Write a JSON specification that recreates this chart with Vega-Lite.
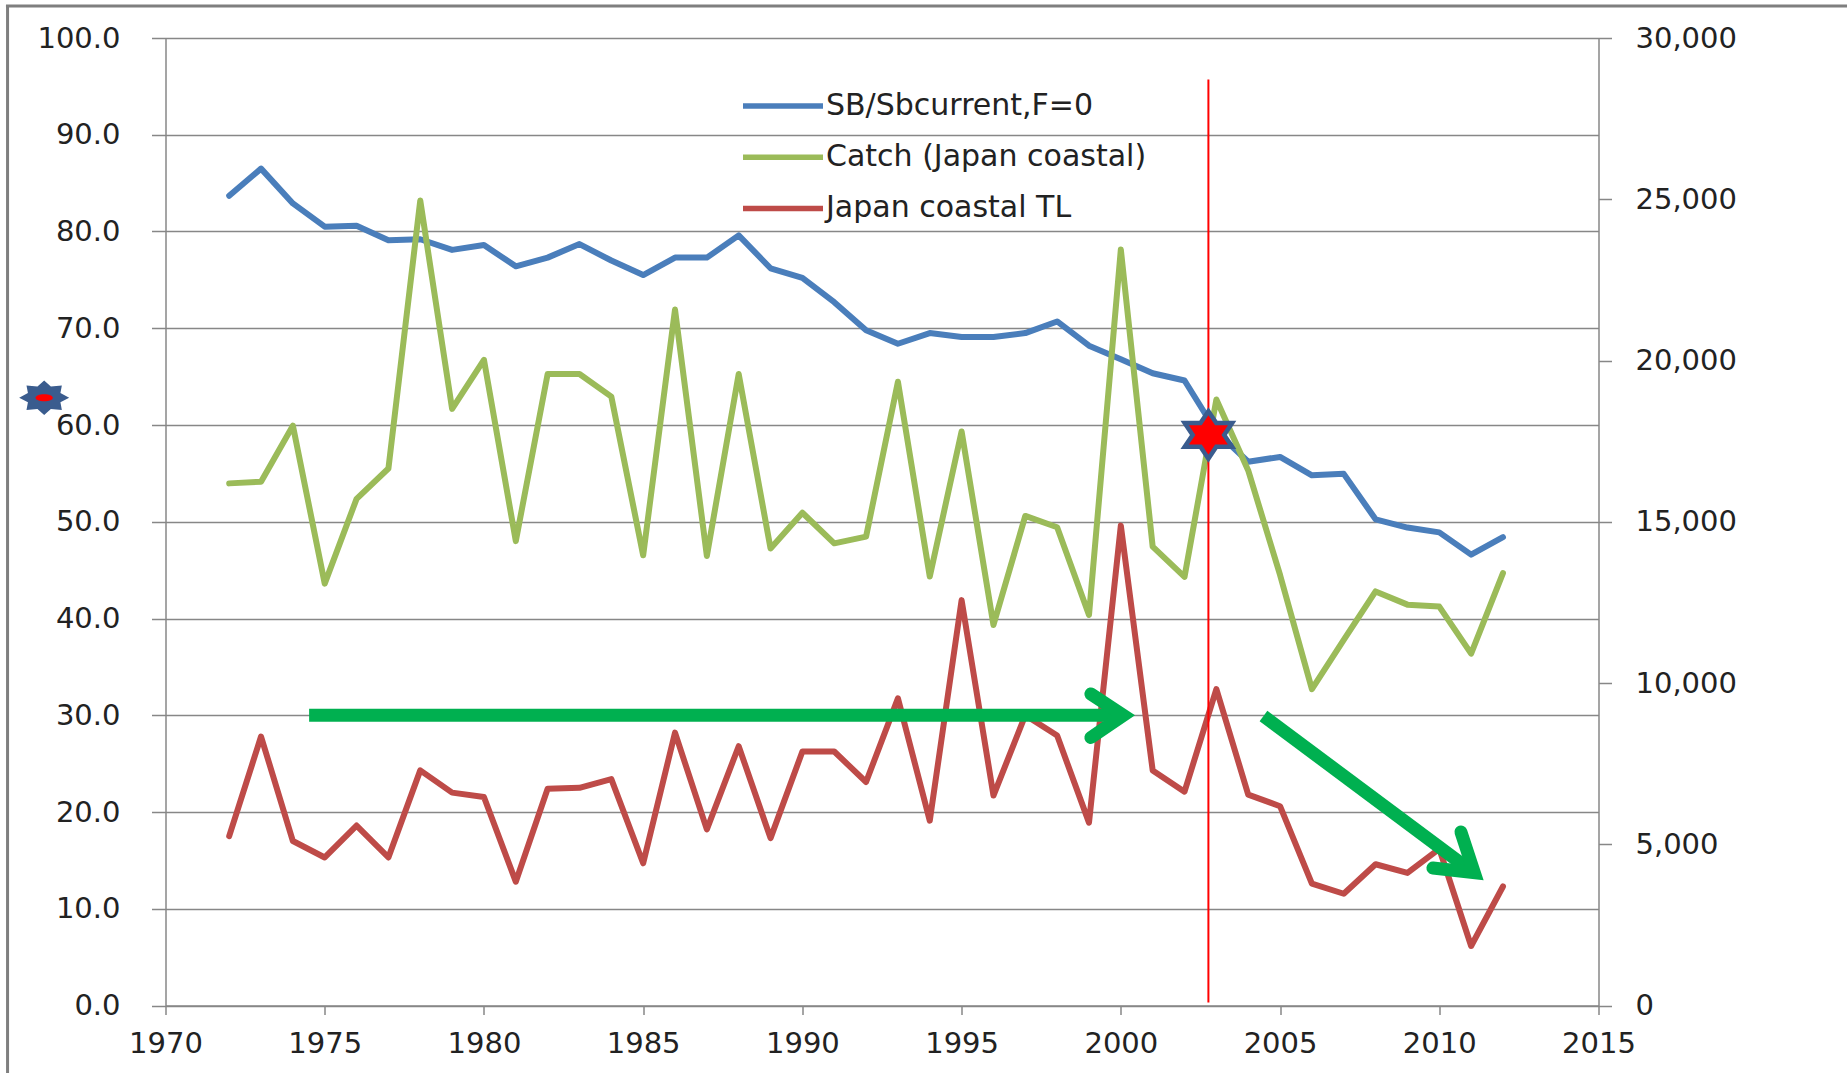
{
  "$schema": "https://vega.github.io/schema/vega-lite/v6.json",
  "width": 1433,
  "height": 967.5,
  "autosize": {"type": "none"},
  "padding": {"left": 165.5, "top": 38, "right": 248.5, "bottom": 67.5},
  "background": "white",
  "config": {
    "view": {"stroke": null},
    "font": "DejaVu Sans",
    "axis": {"labelFont": "DejaVu Sans", "labelColor": "#222222", "labelFontSize": 29, "domainColor": "#878787", "domainWidth": 1.5, "tickColor": "#878787", "tickWidth": 1.5, "gridColor": "#878787", "gridWidth": 1.5}
  },
  "datasets": {
    "series": [
      {"year": 1972, "sb": 83.7, "catch": 16190, "tl": 17.5},
      {"year": 1973, "sb": 86.5, "catch": 16240, "tl": 27.8},
      {"year": 1974, "sb": 82.9, "catch": 17980, "tl": 17.0},
      {"year": 1975, "sb": 80.5, "catch": 13080, "tl": 15.3},
      {"year": 1976, "sb": 80.6, "catch": 15710, "tl": 18.6},
      {"year": 1977, "sb": 79.1, "catch": 16650, "tl": 15.3},
      {"year": 1978, "sb": 79.2, "catch": 24960, "tl": 24.3},
      {"year": 1979, "sb": 78.1, "catch": 18500, "tl": 22.0},
      {"year": 1980, "sb": 78.6, "catch": 20020, "tl": 21.55},
      {"year": 1981, "sb": 76.4, "catch": 14400, "tl": 12.8},
      {"year": 1982, "sb": 77.3, "catch": 19580, "tl": 22.4},
      {"year": 1983, "sb": 78.7, "catch": 19580, "tl": 22.5},
      {"year": 1984, "sb": 77.0, "catch": 18880, "tl": 23.4},
      {"year": 1985, "sb": 75.5, "catch": 13960, "tl": 14.7},
      {"year": 1986, "sb": 77.3, "catch": 21580, "tl": 28.2},
      {"year": 1987, "sb": 77.3, "catch": 13940, "tl": 18.2},
      {"year": 1988, "sb": 79.6, "catch": 19580, "tl": 26.8},
      {"year": 1989, "sb": 76.2, "catch": 14170, "tl": 17.3},
      {"year": 1990, "sb": 75.2, "catch": 15280, "tl": 26.25},
      {"year": 1991, "sb": 72.7, "catch": 14330, "tl": 26.25},
      {"year": 1992, "sb": 69.8, "catch": 14540, "tl": 23.1},
      {"year": 1993, "sb": 68.4, "catch": 19340, "tl": 31.75},
      {"year": 1994, "sb": 69.5, "catch": 13300, "tl": 19.1},
      {"year": 1995, "sb": 69.1, "catch": 17800, "tl": 41.9},
      {"year": 1996, "sb": 69.1, "catch": 11800, "tl": 21.7},
      {"year": 1997, "sb": 69.5, "catch": 15180, "tl": 30.0},
      {"year": 1998, "sb": 70.7, "catch": 14830, "tl": 27.9},
      {"year": 1999, "sb": 68.2, "catch": 12110, "tl": 18.9},
      {"year": 2000, "sb": 66.8, "catch": 23440, "tl": 49.6},
      {"year": 2001, "sb": 65.35, "catch": 14230, "tl": 24.3},
      {"year": 2002, "sb": 64.6, "catch": 13290, "tl": 22.1},
      {"year": 2003, "sb": 59.3, "catch": 18790, "tl": 32.7},
      {"year": 2004, "sb": 56.2, "catch": 16590, "tl": 21.8},
      {"year": 2005, "sb": 56.7, "catch": 13350, "tl": 20.6},
      {"year": 2006, "sb": 54.8, "catch": 9810, "tl": 12.6},
      {"year": 2007, "sb": 54.95, "catch": 11340, "tl": 11.55},
      {"year": 2008, "sb": 50.25, "catch": 12840, "tl": 14.6},
      {"year": 2009, "sb": 49.4, "catch": 12430, "tl": 13.7},
      {"year": 2010, "sb": 48.9, "catch": 12370, "tl": 16.2},
      {"year": 2011, "sb": 46.6, "catch": 10910, "tl": 6.15},
      {"year": 2012, "sb": 48.4, "catch": 13410, "tl": 12.3}
    ],
    "shafts": [
      {"id": "h", "k": 0, "year": 1974.51, "v": 30.0},
      {"id": "h", "k": 1, "year": 2000.0, "v": 30.0},
      {"id": "d", "k": 0, "year": 2004.48, "v": 29.92},
      {"id": "d", "k": 1, "year": 2010.84, "v": 14.32}
    ],
    "heads": [
      {"id": "h", "k": 0, "year": 1999.06, "v": 32.2},
      {"id": "h", "k": 1, "year": 2000.08, "v": 30.0},
      {"id": "h", "k": 2, "year": 1999.06, "v": 27.7},
      {"id": "d", "k": 0, "year": 2010.68, "v": 17.93},
      {"id": "d", "k": 1, "year": 2011.1, "v": 13.73},
      {"id": "d", "k": 2, "year": 2009.8, "v": 14.21}
    ]
  },
  "layer": [
    {
      "data": {"name": "series"},
      "layer": [
        {
          "mark": {"type": "line", "strokeWidth": 6, "strokeJoin": "round", "strokeCap": "round"},
          "encoding": {
            "x": {"field": "year", "type": "quantitative", "title": null,
              "scale": {"domain": [1970, 2015], "nice": false, "zero": false},
              "axis": {"values": [1970, 1975, 1980, 1985, 1990, 1995, 2000, 2005, 2010, 2015], "format": "d", "tickSize": 9, "labelPadding": 15, "grid": false, "labelFlush": false, "labelOverlap": false}},
            "y": {"field": "sb", "type": "quantitative", "title": null,
              "scale": {"domain": [0, 100], "nice": false, "zero": false},
              "axis": {"orient": "left", "values": [0, 10, 20, 30, 40, 50, 60, 70, 80, 90, 100], "format": ".1f", "tickSize": 14, "labelPadding": 31.5, "grid": true, "labelFlush": false, "labelOverlap": false}},
            "color": {"datum": "SB/Sbcurrent,F=0", "type": "nominal",
              "scale": {"domain": ["SB/Sbcurrent,F=0", "Catch (Japan coastal)", "Japan coastal TL"], "range": ["#4A7EBB", "#9BBB59", "#BE4B48"]},
              "legend": {"orient": "none", "legendX": 594.5, "legendY": 45, "title": null, "symbolType": "M-2,0L2,0", "symbolSize": 1600, "symbolStrokeWidth": 5.5, "symbolFillColor": "transparent", "labelFontSize": 30, "labelFont": "DejaVu Sans", "labelColor": "#222222", "labelLimit": 600, "rowPadding": 13.2, "labelOffset": 20, "padding": 0}}
          }
        },
        {
          "mark": {"type": "line", "strokeWidth": 6, "strokeJoin": "round", "strokeCap": "round"},
          "encoding": {
            "x": {"field": "year", "type": "quantitative", "title": null, "scale": {"domain": [1970, 2015], "nice": false, "zero": false}},
            "y": {"field": "tl", "type": "quantitative", "title": null, "scale": {"domain": [0, 100], "nice": false, "zero": false}},
            "color": {"datum": "Japan coastal TL", "type": "nominal"}
          }
        }
      ]
    },
    {
      "data": {"name": "series"},
      "mark": {"type": "line", "strokeWidth": 6, "strokeJoin": "round", "strokeCap": "round"},
      "encoding": {
        "x": {"field": "year", "type": "quantitative", "title": null, "axis": null, "scale": {"domain": [1970, 2015], "nice": false, "zero": false}},
        "y": {"field": "catch", "type": "quantitative", "title": null,
          "scale": {"domain": [0, 30000], "nice": false, "zero": false},
          "axis": {"orient": "right", "values": [0, 5000, 10000, 15000, 20000, 25000, 30000], "format": ",.0f", "tickSize": 13, "labelPadding": 23.5, "grid": false, "labelFlush": false, "labelOverlap": false}},
        "color": {"datum": "Catch (Japan coastal)", "type": "nominal"}
      }
    },
    {
      "data": {"values": [{}]},
      "layer": [
        {
          "mark": {"type": "rule", "color": "#FF0000", "strokeWidth": 2},
          "encoding": {
            "x": {"datum": 2002.75, "type": "quantitative", "axis": null, "scale": {"domain": [1970, 2015], "nice": false, "zero": false}},
            "y": {"datum": 0.3, "type": "quantitative", "axis": null, "scale": {"domain": [0, 100], "nice": false, "zero": false}},
            "y2": {"datum": 95.7}
          }
        },
        {
          "data": {"name": "shafts"},
          "mark": {"type": "line", "color": "#00B050", "strokeWidth": 13, "strokeCap": "butt"},
          "encoding": {
            "x": {"field": "year", "type": "quantitative", "axis": null, "title": null, "scale": {"domain": [1970, 2015], "nice": false, "zero": false}},
            "y": {"field": "v", "type": "quantitative", "axis": null, "title": null, "scale": {"domain": [0, 100], "nice": false, "zero": false}},
            "detail": {"field": "id", "type": "nominal"},
            "order": {"field": "k", "type": "quantitative"}
          }
        },
        {
          "data": {"name": "heads"},
          "mark": {"type": "line", "color": "#00B050", "strokeWidth": 13, "strokeCap": "round", "strokeJoin": "miter", "strokeMiterLimit": 10},
          "encoding": {
            "x": {"field": "year", "type": "quantitative", "axis": null, "title": null, "scale": {"domain": [1970, 2015], "nice": false, "zero": false}},
            "y": {"field": "v", "type": "quantitative", "axis": null, "title": null, "scale": {"domain": [0, 100], "nice": false, "zero": false}},
            "detail": {"field": "id", "type": "nominal"},
            "order": {"field": "k", "type": "quantitative"}
          }
        },
        {
          "mark": {"type": "point", "shape": "M0,-1L0.333,-0.5L1,-0.5L0.664,0L1,0.5L0.333,0.5L0,1L-0.333,0.5L-1,0.5L-0.664,0L-1,-0.5L-0.333,-0.5Z", "size": 2250, "filled": true, "fill": "#FF0000", "stroke": "#3A5C8E", "strokeWidth": 4.5, "opacity": 1, "strokeJoin": "miter"},
          "encoding": {
            "x": {"datum": 2002.75, "type": "quantitative", "axis": null, "scale": {"domain": [1970, 2015], "nice": false, "zero": false}},
            "y": {"datum": 58.97, "type": "quantitative", "axis": null, "scale": {"domain": [0, 100], "nice": false, "zero": false}}
          }
        },
        {
          "mark": {"type": "point", "shape": "M1,0L0.65,0.186L0.707,0.488L0.268,0.449L0,0.69L-0.268,0.449L-0.707,0.488L-0.65,0.186L-1,0L-0.65,-0.186L-0.707,-0.488L-0.268,-0.449L0,-0.69L0.268,-0.449L0.707,-0.488L0.65,-0.186Z", "size": 2500, "filled": true, "fill": "#3A5C8E", "strokeWidth": 0, "opacity": 1},
          "encoding": {
            "x": {"datum": 1966.19, "type": "quantitative", "axis": null, "scale": {"domain": [1970, 2015], "nice": false, "zero": false}},
            "y": {"datum": 62.82, "type": "quantitative", "axis": null, "scale": {"domain": [0, 100], "nice": false, "zero": false}}
          }
        },
        {
          "mark": {"type": "point", "shape": "M-1,0A1,0.41,0,1,1,1,0A1,0.41,0,1,1,-1,0Z", "size": 300, "filled": true, "fill": "#FF0000", "strokeWidth": 0, "opacity": 1},
          "encoding": {
            "x": {"datum": 1966.19, "type": "quantitative", "axis": null, "scale": {"domain": [1970, 2015], "nice": false, "zero": false}},
            "y": {"datum": 62.82, "type": "quantitative", "axis": null, "scale": {"domain": [0, 100], "nice": false, "zero": false}}
          }
        },
        {
          "mark": {"type": "rule", "color": "#7F7F7F", "strokeWidth": 3},
          "encoding": {
            "x": {"datum": 1965.04, "type": "quantitative", "axis": null, "scale": {"domain": [1970, 2015], "nice": false, "zero": false}},
            "y": {"datum": -10, "type": "quantitative", "axis": null, "scale": {"domain": [0, 100], "nice": false, "zero": false}},
            "y2": {"datum": 103.31}
          }
        },
        {
          "mark": {"type": "rule", "color": "#7F7F7F", "strokeWidth": 3},
          "encoding": {
            "x": {"datum": 1964.99, "type": "quantitative", "axis": null, "scale": {"domain": [1970, 2015], "nice": false, "zero": false}},
            "x2": {"datum": 2035},
            "y": {"datum": 103.31, "type": "quantitative", "axis": null, "scale": {"domain": [0, 100], "nice": false, "zero": false}}
          }
        }
      ]
    }
  ],
  "resolve": {"scale": {"y": "independent"}, "axis": {"x": "independent"}}
}
